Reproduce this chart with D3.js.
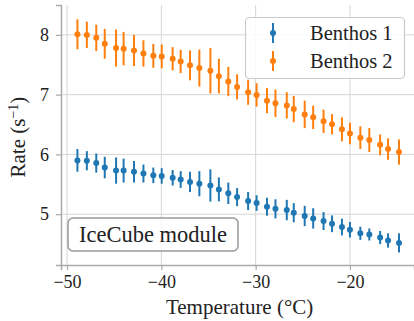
<!DOCTYPE html>
<html>
<head>
<meta charset="utf-8">
<script src="https://cdn.jsdelivr.net/npm/d3@7"></script>
<style>
  body { margin: 0; background: #fff; }
  svg text { font-family: "Liberation Serif", "DejaVu Serif", serif; fill: #222; }
</style>
</head>
<body>
<div id="chart"></div>
<script>
// data
const temps = [-48.9, -47.9, -46.9, -46.0, -44.8, -44.0, -42.9, -41.9, -40.85, -39.96,
  -38.8, -37.95, -36.96, -35.97, -34.8, -33.9, -32.9, -31.97, -30.8, -29.9,
  -28.8, -27.9, -26.7, -25.96, -24.8, -23.9, -22.8, -21.9, -20.85, -20.0,
  -18.9, -17.95, -16.8, -15.96, -14.8];
const benthos1 = [5.90, 5.895, 5.855, 5.78, 5.73, 5.73, 5.71, 5.68, 5.65, 5.64,
  5.61, 5.58, 5.54, 5.51, 5.48, 5.415, 5.35, 5.286, 5.22, 5.186,
  5.125, 5.09, 5.07, 5.025, 4.97, 4.93, 4.885, 4.84, 4.785, 4.74,
  4.68, 4.66, 4.61, 4.56, 4.52];
const benthos1Err = [0.19, 0.16, 0.16, 0.18, 0.22, 0.20, 0.18, 0.15, 0.13, 0.13,
  0.13, 0.14, 0.17, 0.21, 0.27, 0.20, 0.18, 0.15, 0.15, 0.13,
  0.15, 0.16, 0.17, 0.16, 0.17, 0.17, 0.15, 0.14, 0.14, 0.13,
  0.11, 0.10, 0.11, 0.12, 0.16];
const benthos2 = [8.01, 8.0, 7.95, 7.85, 7.78, 7.77, 7.74, 7.69, 7.65, 7.64,
  7.60, 7.555, 7.49, 7.445, 7.40, 7.31, 7.22, 7.13, 7.04, 6.995,
  6.90, 6.855, 6.82, 6.76, 6.67, 6.62, 6.555, 6.505, 6.42, 6.35,
  6.28, 6.24, 6.16, 6.09, 6.04];
const benthos2Err = [0.25, 0.22, 0.22, 0.25, 0.31, 0.28, 0.26, 0.22, 0.20, 0.20,
  0.195, 0.195, 0.25, 0.31, 0.38, 0.29, 0.245, 0.21, 0.21, 0.195,
  0.21, 0.23, 0.22, 0.22, 0.23, 0.195, 0.195, 0.17, 0.2, 0.18,
  0.19, 0.2, 0.175, 0.18, 0.21];
const seriesNames = ["Benthos 1", "Benthos 2"];
const xTicks = [-50, -40, -30, -20];
const yTicks = [5, 6, 7, 8];

const colors = ["#1f77b4", "#ff7f0e"];
const W = 414, H = 321;
const margin = { left: 61, right: 0, top: 5, bottom: 56 };
const serif = "'Liberation Serif', 'DejaVu Serif', serif";

const svg = d3.select("#chart").append("svg")
  .attr("width", W).attr("height", H);

const x = d3.scaleLinear().domain([-50.64, -13.21]).range([margin.left, W - margin.right]);
const y = d3.scaleLinear().domain([4.15, 8.5]).range([H - margin.bottom, margin.top]);

// grid
const grid = svg.append("g");
grid.selectAll(".gx").data(xTicks).enter().append("line")
  .attr("x1", d => x(d)).attr("x2", d => x(d))
  .attr("y1", y.range()[1]).attr("y2", y.range()[0])
  .style("stroke", "#d6d6d6").style("stroke-width", 1);
grid.selectAll(".gy").data(yTicks).enter().append("line")
  .attr("x1", x.range()[0]).attr("x2", x.range()[1])
  .attr("y1", d => y(d)).attr("y2", d => y(d))
  .style("stroke", "#d6d6d6").style("stroke-width", 1);

// axes
const xAxis = svg.append("g")
  .attr("transform", "translate(0," + y.range()[0] + ")")
  .call(d3.axisBottom(x).tickValues(xTicks).tickSize(5).tickPadding(5)
    .tickFormat(d => d < 0 ? "\u2212" + Math.abs(d) : d));
const yAxis = svg.append("g")
  .attr("transform", "translate(" + x.range()[0] + ",0)")
  .call(d3.axisLeft(y).tickValues(yTicks).tickSize(5).tickPadding(7).tickFormat(d3.format("d")));
[xAxis, yAxis].forEach(a => {
  a.attr("font-family", null).attr("font-size", null);
  a.select(".domain").style("stroke", "#aaa").style("stroke-width", 1.5);
  a.selectAll(".tick line").style("stroke", "#aaa").style("stroke-width", 1.2);
  a.selectAll(".tick text").style("font-size", "18px")
    .style("font-family", serif).style("fill", "#222");
});

// data with error bars
const series = [
  { name: seriesNames[0], vals: benthos1, err: benthos1Err, color: colors[0] },
  { name: seriesNames[1], vals: benthos2, err: benthos2Err, color: colors[1] }
];
series.forEach(s => {
  const pts = temps.map((t, i) => ({ t: t, v: s.vals[i], e: s.err[i] }));
  const g = svg.append("g");
  g.selectAll("line").data(pts).enter().append("line")
    .attr("x1", d => x(d.t)).attr("x2", d => x(d.t))
    .attr("y1", d => y(d.v - d.e)).attr("y2", d => y(d.v + d.e))
    .style("stroke", s.color).style("stroke-width", 2);
  g.selectAll("circle").data(pts).enter().append("circle")
    .attr("cx", d => x(d.t)).attr("cy", d => y(d.v))
    .attr("r", 3).style("fill", s.color);
});

// legend
const leg = svg.append("g");
leg.append("rect")
  .attr("x", 245.5).attr("y", 17.5).attr("width", 159).attr("height", 61).attr("rx", 4)
  .style("fill", "#fff").style("fill-opacity", 0.85)
  .style("stroke", "#ccc").style("stroke-width", 1.2);
series.forEach((s, i) => {
  const ly = 33 + i * 28;
  leg.append("line").attr("x1", 273).attr("x2", 273).attr("y1", ly - 10).attr("y2", ly + 10)
    .style("stroke", s.color).style("stroke-width", 2);
  leg.append("circle").attr("cx", 273).attr("cy", ly).attr("r", 3).style("fill", s.color);
  leg.append("text").attr("x", 310).attr("y", ly + 7)
    .style("font-size", "20.5px").style("font-family", serif).text(s.name);
});

// annotation box
const ann = svg.append("g");
ann.append("rect")
  .attr("x", 68).attr("y", 218).attr("width", 170).attr("height", 33).attr("rx", 5)
  .style("fill", "#fff").style("fill-opacity", 0.8)
  .style("stroke", "#999").style("stroke-width", 1.5);
ann.append("text").attr("x", 153).attr("y", 241.5)
  .style("font-size", "22.5px").style("font-family", serif)
  .style("text-anchor", "middle").text("IceCube module");

// axis labels
svg.append("text").attr("x", x(-31.7)).attr("y", 314)
  .style("font-size", "21px").style("font-family", serif)
  .style("text-anchor", "middle").text("Temperature (\u00b0C)");
const yl = svg.append("text")
  .attr("transform", "translate(25," + y(6.29) + ") rotate(-90)")
  .style("font-size", "21px").style("font-family", serif).style("text-anchor", "middle");
yl.append("tspan").text("Rate (s");
yl.append("tspan").attr("dy", -7).style("font-size", "14px").text("\u22121");
yl.append("tspan").attr("dy", 7).text(")");
</script>
</body>
</html>
